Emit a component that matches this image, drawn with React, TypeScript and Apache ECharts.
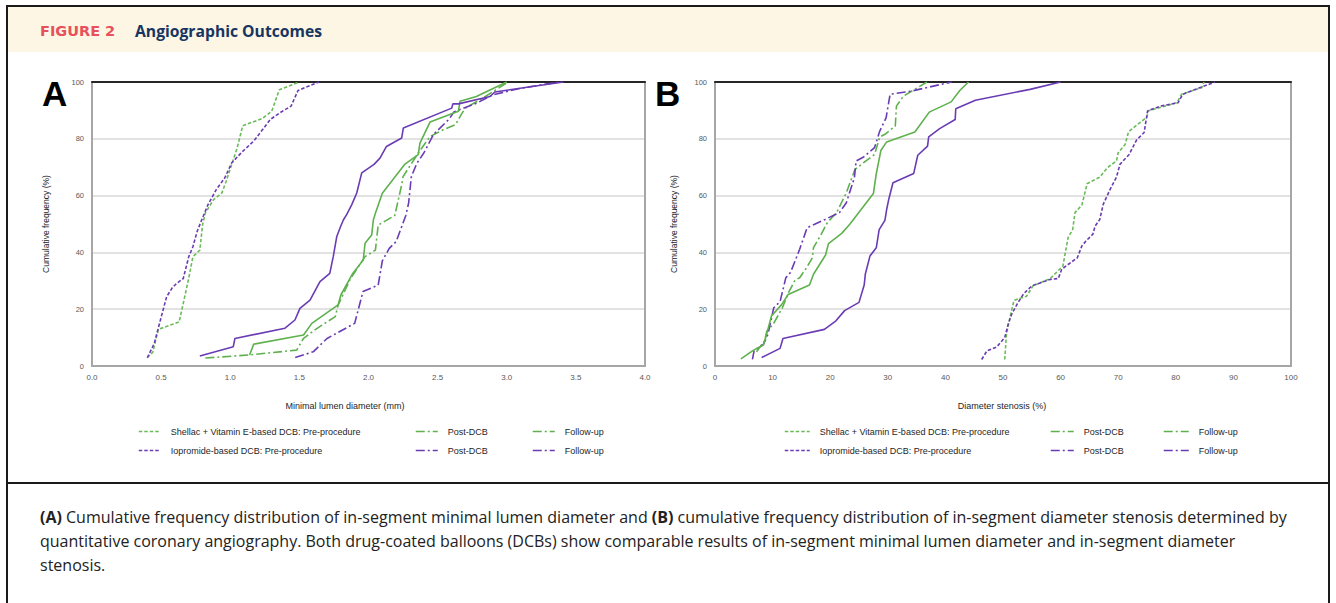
import React, { useEffect, useRef } from "react";
import * as echarts from "echarts";

// ---------- Panel A: minimal lumen diameter (mm) vs cumulative frequency (%) ----------
const aShellacPre = [[0.40,2.9],[0.44,4.9],[0.48,12.9],[0.63,15.5],[0.66,22],[0.70,31],[0.73,38.5],[0.78,40.8],[0.80,49.8],[0.82,53.9],[0.88,58.6],[0.94,61],[0.97,65],[1.01,70.9],[1.05,76.8],[1.09,84.6],[1.23,87.1],[1.30,89.7],[1.355,97.3],[1.50,100]];
const aIoproPre = [[0.40,2.9],[0.45,7.9],[0.52,20.8],[0.54,24.4],[0.58,27.5],[0.61,29],[0.66,30.8],[0.70,38.5],[0.73,42],[0.76,47.3],[0.79,51],[0.84,56.9],[0.90,62.2],[0.96,66.2],[1.01,71.5],[1.09,75.6],[1.17,79.2],[1.23,83],[1.29,86.8],[1.36,89.2],[1.44,91.5],[1.49,97],[1.64,100]];
const aShellacPost = [[0.82,2.8],[1.14,3.9],[1.48,5.6],[1.53,9.7],[1.62,13],[1.76,17.4],[1.78,21.4],[1.87,30.8],[1.975,38.5],[2.05,40.8],[2.07,49.6],[2.19,53],[2.24,63.8],[2.25,66.7],[2.36,75],[2.445,80.8],[2.54,83.2],[2.63,85],[2.67,88.5],[2.70,90.8],[2.83,94.4],[3.01,100]];
const aShellacFU = [[1.14,3.9],[1.17,7.7],[1.53,10.9],[1.59,15],[1.78,21.5],[1.80,25],[1.886,32.6],[1.962,37.3],[1.975,43.2],[2.023,46.1],[2.035,51.4],[2.05,53.8],[2.10,60.8],[2.264,71.1],[2.36,74.4],[2.372,78.5],[2.445,85.9],[2.65,89.7],[2.662,93.2],[2.78,94.9],[3.00,100]];
const aIoproPost = [[1.47,3.0],[1.60,5.0],[1.70,9.7],[1.90,15],[1.96,26.2],[2.07,28.5],[2.10,37],[2.15,41.4],[2.20,43.8],[2.27,53],[2.29,57.3],[2.31,66.7],[2.35,71.4],[2.40,75],[2.47,81.5],[2.58,86.8],[2.62,89.5],[2.78,92.5],[2.90,95.5],[3.10,97.8],[3.38,100]];
const aIoproFU = [[0.78,3.5],[1.022,6.8],[1.034,9.7],[1.396,13.3],[1.468,16.2],[1.504,20.3],[1.577,23.2],[1.649,29.7],[1.72,32.6],[1.745,38.5],[1.77,45.5],[1.794,48.6],[1.818,51.4],[1.842,53.3],[1.879,56.8],[1.915,60.9],[1.951,68],[2.04,71],[2.083,73.2],[2.13,77.3],[2.24,80.3],[2.252,83.8],[2.602,90.8],[2.61,92.3],[2.65,92.3],[2.879,94.9],[2.915,96.5],[3.41,100]];

// ---------- Panel B: diameter stenosis (%) vs cumulative frequency (%) ----------
const bShellacPre = [[50.3,2.3],[50.6,11.2],[51.2,17],[51.9,23.1],[54.1,24.6],[55.2,28.2],[58.2,30.8],[60.4,35.2],[61.3,45.2],[62.1,48.1],[62.5,54],[63.7,56.7],[64.6,64.2],[66.8,66.5],[68.1,69.8],[69.7,72.2],[70.0,75.1],[71.2,78],[71.8,82.5],[75.0,87.7],[75.2,89.8],[80.2,92.7],[81.0,95.7],[84.5,98],[84.9,100]];
const bIoproPre = [[46.3,2.3],[47.2,5.3],[48.9,6.7],[50.3,10],[50.9,14.7],[51.5,18.2],[52.5,22],[53.6,25.5],[55.0,28.2],[58.2,30.5],[59.6,30.8],[60.2,34.1],[62.9,38.1],[63.7,42.3],[64.4,44],[65.6,46.4],[66.0,49.3],[66.8,51.6],[67.4,56.9],[68.6,62.2],[69.7,66.5],[70.3,71],[71.9,74.5],[73.2,79.6],[74.5,82.2],[75.1,89.8],[77.3,91.5],[80.4,92.7],[81.2,95.7],[86.8,100]];
const bShellacPost = [[7.2,5.0],[8.6,8.8],[9.0,12.3],[10.1,14.7],[11.7,20.5],[12.8,26],[13.9,30.2],[14.7,31.1],[15.9,34.6],[16.9,38.1],[17.1,41.7],[18.5,46.6],[19.5,50.5],[21.1,54],[22.8,61],[24.3,69.2],[25.8,71.6],[27.7,74.5],[28.6,80.6],[29.5,81.6],[31.3,84.5],[31.5,91.5],[32.7,95],[36.8,100]];
const bShellacFU = [[4.5,2.5],[6.7,5.6],[8.4,7.4],[8.8,10],[9.8,17.6],[11.6,21.7],[12.7,25.2],[16.4,28.5],[17.1,32.3],[18,35.2],[19.2,39.1],[19.7,43.1],[22,46.7],[23.4,49.9],[27.5,60.7],[28,67.7],[28.8,75.9],[29.8,78.9],[34.7,82.4],[37.2,89.4],[41,93],[42.5,97],[44,100]];
const bIoproPost = [[6.5,2.3],[6.8,5.5],[8.4,7.6],[9.2,11.2],[10.2,20.5],[11.3,22.7],[12.3,31.1],[13.1,32.9],[14.7,41.1],[16.0,48.7],[17.3,49.9],[19.1,51.6],[21.6,54],[22.8,57.5],[24.2,66.3],[24.5,72.2],[25.8,73.6],[27.7,76.9],[28.6,82.7],[29.7,87.4],[30.4,95.7],[34.1,96.8],[41.1,100]];
const bIoproFU = [[8.1,3],[11.3,6.2],[11.8,9.7],[19,12.9],[21,15.9],[22.5,19.5],[25,22.4],[25.9,28.5],[26.1,32.4],[26.9,38.7],[28,41.6],[28.5,48],[29.5,51.3],[29.8,55.1],[30.2,59],[30.9,64.5],[34.5,67.8],[35.2,74.2],[36.9,77.4],[37.1,80.7],[39,83.6],[41.7,86.8],[41.8,90.6],[45.2,93.6],[54.7,97.4],[60,100]];

const legendLabels = [
  "Shellac + Vitamin E-based DCB: Pre-procedure",
  "Iopromide-based DCB: Pre-procedure",
  "Post-DCB",
  "Follow-up",
];
const xTitleA = "Minimal lumen diameter (mm)";
const xTitleB = "Diameter stenosis (%)";
const yTitle = "Cumulative frequency (%)";
const captionLines = [
  "{b|(A)} Cumulative frequency distribution of in-segment minimal lumen diameter and {b|(B)} cumulative frequency distribution of in-segment diameter stenosis determined by",
  "quantitative coronary angiography. Both drug-coated balloons (DCBs) show comparable results of in-segment minimal lumen diameter and in-segment diameter",
  "stenosis.",
];

const GREEN = "#5eb14d";
const GREEN_D = "#6cbb5a";
const PURPLE = "#6a3cb4";
const DASH = [3.5, 2];
const DASHDOT = [9, 3, 2, 3];
const FONT = "'Liberation Sans', Arial, sans-serif";

export default function App() {
  const ref = useRef<HTMLDivElement>(null);
  useEffect(() => {
    const chart = echarts.init(ref.current!, null, { renderer: "svg" });

    const mk = (name: string, data: number[][], color: string, type: any, g: number) => ({
      type: "line",
      name,
      data,
      xAxisIndex: g * 2,
      yAxisIndex: g * 2,
      symbol: "none",
      silent: true,
      lineStyle: { color, width: 1.6, type },
      itemStyle: { color },
    });

    const series = [
      mk("A|pre-s|" + legendLabels[0], aShellacPre, GREEN_D, DASH, 0),
      mk("A|pre-i|" + legendLabels[1], aIoproPre, PURPLE, DASH, 0),
      mk("A|post-s|" + legendLabels[2], aShellacPost, GREEN, DASHDOT, 0),
      mk("A|post-i|" + legendLabels[2], aIoproPost, PURPLE, DASHDOT, 0),
      mk("A|fu-s|" + legendLabels[3], aShellacFU, GREEN, "solid", 0),
      mk("A|fu-i|" + legendLabels[3], aIoproFU, PURPLE, "solid", 0),
      mk("B|pre-s|" + legendLabels[0], bShellacPre, GREEN_D, DASH, 1),
      mk("B|pre-i|" + legendLabels[1], bIoproPre, PURPLE, DASH, 1),
      mk("B|post-s|" + legendLabels[2], bShellacPost, GREEN, DASHDOT, 1),
      mk("B|post-i|" + legendLabels[2], bIoproPost, PURPLE, DASHDOT, 1),
      mk("B|fu-s|" + legendLabels[3], bShellacFU, GREEN, "solid", 1),
      mk("B|fu-i|" + legendLabels[3], bIoproFU, PURPLE, "solid", 1),
    ];

    const hidden = { color: "rgba(0,0,0,0)", borderColor: "rgba(0,0,0,0)", borderWidth: 0, opacity: 0 };
    const lg = (left: number, idx: number[], w: number, dash: any) => ({
      orient: "vertical",
      left,
      top: 422,
      itemWidth: w,
      itemHeight: 8,
      itemGap: 10,
      selectedMode: false,
      itemStyle: hidden,
      data: idx.map((i) => ({ name: series[i].name, itemStyle: hidden, lineStyle: { type: dash, width: 1.5 } })),
      formatter: (n: string) => n.split("|").pop(),
      textStyle: { fontSize: 9, color: "#262626", fontFamily: FONT, padding: [0, 0, 0, 5] },
    });

    const axisLineGray = { show: true, onZero: false, lineStyle: { color: "#a6a6a6", width: 2 } };
    const xBottom = (g: number, max: number, interval: number, fmt: (v: number) => string) => ({
      type: "value",
      gridIndex: g,
      min: 0,
      max,
      interval,
      axisLine: axisLineGray,
      axisTick: { show: false },
      splitLine: { show: false },
      axisLabel: { fontSize: 8, color: "#595959", margin: 7, fontFamily: FONT, formatter: fmt },
    });
    const xTop = (g: number, max: number) => ({
      type: "value",
      gridIndex: g,
      position: "top",
      min: 0,
      max,
      axisLine: { show: true, onZero: false, lineStyle: { color: "#262626", width: 2 } },
      axisTick: { show: false },
      axisLabel: { show: false },
      splitLine: { show: false },
    });
    const yLeft = (g: number, gap: number) => ({
      type: "value",
      gridIndex: g,
      min: 0,
      max: 100,
      interval: 20,
      name: yTitle,
      nameLocation: "middle",
      nameGap: gap,
      nameTextStyle: { fontSize: 8.5, color: "#262626", fontFamily: FONT },
      axisLine: axisLineGray,
      axisTick: { show: false },
      splitLine: { show: true, lineStyle: { color: "#d9d9d9", width: 1.5 } },
      axisLabel: { fontSize: 7.5, color: "#595959", margin: 8, fontFamily: FONT },
    });
    const yRight = (g: number) => ({
      type: "value",
      gridIndex: g,
      position: "right",
      min: 0,
      max: 100,
      axisLine: axisLineGray,
      axisTick: { show: false },
      axisLabel: { show: false },
      splitLine: { show: false },
    });

    chart.setOption({
      animation: false,
      backgroundColor: "#ffffff",
      grid: [
        { left: 92, top: 82, width: 553, height: 284 },
        { left: 715, top: 82, width: 576, height: 284 },
      ],
      xAxis: [
        xBottom(0, 4, 0.5, (v) => v.toFixed(1)),
        xTop(0, 4),
        xBottom(1, 100, 10, (v) => String(v)),
        xTop(1, 100),
      ],
      yAxis: [yLeft(0, 42), yRight(0), yLeft(1, 37), yRight(1)],
      legend: [
        lg(133, [0, 1], 22, DASH),
        lg(410, [2, 3], 22, DASHDOT),
        lg(527, [4, 5], 22, DASHDOT),
        lg(779, [6, 7], 25, DASH),
        lg(1045, [8, 9], 23, DASHDOT),
        lg(1158, [10, 11], 25, DASHDOT),
      ],
      graphic: [
        { type: "rect", z: -10, shape: { x: 8, y: 7, width: 1320, height: 45 }, style: { fill: "#fdf6e4" } },
        { type: "rect", z: 10, shape: { x: 7, y: 6, width: 1322, height: 640 }, style: { fill: "none", stroke: "#1a1a1a", lineWidth: 2 } },
        { type: "line", z: 10, shape: { x1: 7, y1: 483, x2: 1329, y2: 483 }, style: { stroke: "#1a1a1a", lineWidth: 2 } },
        { type: "text", x: 40, y: 31, style: { text: "FIGURE 2", font: "bold 14.5px 'DejaVu Sans', sans-serif", fill: "#e8505b", verticalAlign: "middle" } },
        { type: "text", x: 135, y: 31, style: { text: "Angiographic Outcomes", font: "bold 15.7px 'Open Sans', sans-serif", fill: "#173561", verticalAlign: "middle" } },
        { type: "text", x: 42, y: 93, style: { text: "A", font: "bold 35px 'Liberation Sans', Arial, sans-serif", fill: "#000", verticalAlign: "middle" } },
        { type: "text", x: 655, y: 93, style: { text: "B", font: "bold 35px 'Liberation Sans', Arial, sans-serif", fill: "#000", verticalAlign: "middle" } },
        { type: "text", x: 345, y: 406, style: { text: xTitleA, font: `9px ${FONT}`, fill: "#262626", align: "center", verticalAlign: "middle" } },
        { type: "text", x: 1002, y: 406, style: { text: xTitleB, font: `9px ${FONT}`, fill: "#262626", align: "center", verticalAlign: "middle" } },
        {
          type: "text",
          x: 40,
          y: 505,
          style: {
            text: captionLines.join("\n"),
            fontFamily: "'Open Sans', sans-serif",
            fontSize: 16,
            lineHeight: 24,
            fill: "#222",
            verticalAlign: "top",
            rich: { b: { fontWeight: "bold", fontFamily: "'Open Sans', sans-serif", fontSize: 16, lineHeight: 24, fill: "#222" } },
          },
        },
      ],
      series,
    });
    return () => chart.dispose();
  }, []);
  return <div ref={ref} style={{ position: "fixed", left: 0, top: 0, width: 1336, height: 603 }} />;
}
